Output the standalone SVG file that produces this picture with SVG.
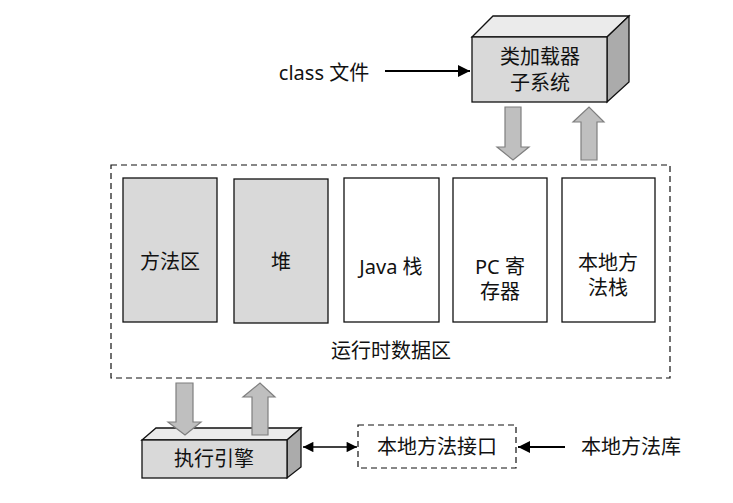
<svg xmlns="http://www.w3.org/2000/svg" width="733" height="503" viewBox="0 0 733 503">
<defs>
<style>
text{font-family:"Noto Sans","Noto Sans CJK SC",sans-serif;font-size:20px;fill:#111;text-anchor:middle}
.front{fill:#d9d9d9;stroke:#111;stroke-width:1.3}
.top{fill:#ebebeb;stroke:#111;stroke-width:1.3}
.side{fill:#ababab;stroke:#111;stroke-width:1.3}
.gray{fill:#d9d9d9;stroke:#111;stroke-width:1.3}
.white{fill:#fff;stroke:#111;stroke-width:1.3}
.dash{fill:none;stroke:#111;stroke-width:1.2;stroke-dasharray:6 4}
.big{fill:#bfbfbf;stroke:#7f7f7f;stroke-width:1.2}
.line{stroke:#000;stroke-width:2;fill:none}
</style>
<marker id="ah" viewBox="0 0 10 10" refX="10" refY="5" markerWidth="6" markerHeight="6" orient="auto-start-reverse" markerUnits="strokeWidth">
<path d="M0,0 L10,5 L0,10 z" fill="#000"/>
</marker>
<marker id="ah2" viewBox="0 0 10 10" refX="10" refY="5" markerWidth="9" markerHeight="8" orient="auto-start-reverse" markerUnits="strokeWidth">
<path d="M0,0 L10,5 L0,10 z" fill="#000"/>
</marker>
</defs>
<rect width="733" height="503" fill="#fff"/>

<g id="class-loader">
<polygon class="top" points="472,37 493,16 629,16 607,37"/>
<polygon class="side" points="607,37 629,16 629,82 607,102"/>
<rect class="front" x="472" y="37" width="135" height="65"/>
<text x="540" y="64">类加载器</text>
<text x="540" y="90">子系统</text>
</g>

<g id="class-file">
<text x="324" y="80">class 文件</text>
</g>

<g id="runtime-data-area">
<rect class="dash" x="111" y="165" width="559" height="213"/>
<text x="391" y="358">运行时数据区</text>
</g>

<g id="method-area">
<rect class="gray" x="123" y="178" width="94" height="144"/>
<text x="170" y="269">方法区</text>
</g>
<g id="heap">
<rect class="gray" x="234" y="179" width="94" height="144"/>
<text x="281" y="269">堆</text>
</g>
<g id="java-stack">
<rect class="white" x="344" y="178" width="95" height="144"/>
<text x="391" y="274">Java 栈</text>
</g>
<g id="pc-register">
<rect class="white" x="453" y="178" width="94" height="144"/>
<text x="500" y="274">PC 寄</text>
<text x="500" y="299">存器</text>
</g>
<g id="native-method-stack">
<rect class="white" x="562" y="178" width="93" height="144"/>
<text x="608" y="270">本地方</text>
<text x="608" y="295">法栈</text>
</g>

<g id="execution-engine">
<polygon class="top" points="142,440 156,428 301,428 287,440"/>
<polygon class="side" points="287,440 301,428 301,467 287,478"/>
<rect class="front" x="142" y="440" width="145" height="38"/>
<text x="214" y="466">执行引擎</text>
</g>

<g id="native-interface">
<rect class="dash" x="358" y="425" width="158" height="43"/>
<text x="437" y="454">本地方法接口</text>
</g>

<g id="native-library">
<text x="631" y="454">本地方法库</text>
</g>

<g id="connectors">
<line class="line" x1="385" y1="71" x2="470" y2="71" marker-end="url(#ah)"/>
<polygon class="big" points="505,107 521,107 521,147 529,147 513,160 497,147 505,147"/>
<polygon class="big" points="581,160 597,160 597,122 604,122 589,107 573,122 581,122"/>
<polygon class="big" points="176,383 193,383 193,422 201,422 185,435 168,422 176,422"/>
<polygon class="big" points="252,435 268,435 268,397 275,397 260,383 243,397 252,397"/>
<line stroke="#000" stroke-width="1.3" x1="303" y1="447" x2="357" y2="447" marker-start="url(#ah2)" marker-end="url(#ah2)"/>
<line class="line" x1="565" y1="447" x2="518" y2="447" marker-end="url(#ah)"/>
</g>
</svg>
